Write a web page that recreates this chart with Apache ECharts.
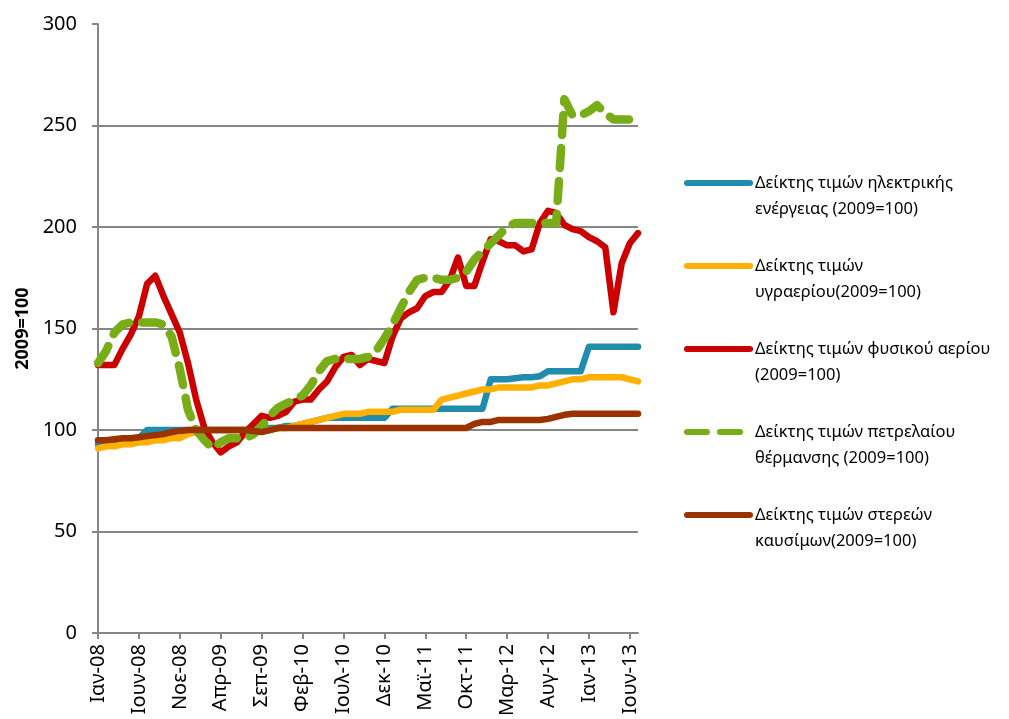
<!DOCTYPE html>
<html>
<head>
<meta charset="utf-8">
<script src="https://cdn.jsdelivr.net/npm/echarts@6/dist/echarts.min.js"></script>
<style>
html, body { margin: 0; padding: 0; background: #fff; }
#chart { width: 1009px; height: 719px; }
</style>
</head>
<body>
<div id="chart"></div>
<script>
// months Jan-08 .. Jul-13
var monthNames = ['Ιαν', 'Φεβ', 'Μαρ', 'Απρ', 'Μαϊ', 'Ιουν', 'Ιουλ', 'Αυγ', 'Σεπ', 'Οκτ', 'Νοε', 'Δεκ'];
var years = ['08', '09', '10', '11', '12', '13'];
var lastYearMonths = 7;

var yTicks = [0, 50, 100, 150, 200, 250, 300];

// values, one row per year
var electricity = [
    93, 93, 93, 94, 94, 96, 100, 100, 100, 100, 100, 100,
    100, 100, 100, 100, 100, 100, 100, 100, 100, 101, 101, 102,
    102, 103, 104, 105, 106, 106, 106, 106, 106, 106, 106, 106,
    110.5, 110.5, 110.5, 110.5, 110.5, 110.5, 110.5, 110.5, 110.5, 110.5, 110.5, 110.5,
    125, 125, 125, 125.5, 126, 126, 126.5, 129, 129, 129, 129, 129,
    141, 141, 141, 141, 141, 141, 141
];
var lpg = [
    91, 92, 92, 93, 93, 94, 94, 95, 95, 96, 96, 98,
    99, 100, 100, 100, 100, 100, 100, 100, 100, 100, 101, 101,
    102, 103, 104, 105, 106, 107, 108, 108, 108, 109, 109, 109,
    109, 110, 110, 110, 110, 110, 115, 116, 117, 118, 119, 120,
    120, 121, 121, 121, 121, 121, 122, 122, 123, 124, 125, 125,
    126, 126, 126, 126, 126, 125, 124
];
var naturalGas = [
    132, 132, 132, 140, 147, 156, 172, 176, 166, 157, 148, 133,
    115, 101, 94, 89, 92, 94, 99, 103, 107, 106, 107, 109,
    114, 115, 115, 120, 124, 131, 136, 137, 132, 135, 134, 133,
    146, 155, 158, 160, 166, 168, 168, 174, 185, 171, 171, 183,
    194, 193, 191, 191, 188, 189, 202, 208, 207, 201, 199, 198,
    195, 193, 190, 158, 182, 192, 197
];
var heatingOil = [
    133, 139, 148, 152, 153, 153, 153, 153, 152, 146, 130, 110,
    100, 95, 91, 94, 96, 96, 96, 98, 102, 107, 111, 113,
    115, 117, 122, 129, 134, 135, 135, 135, 135, 136, 139, 145,
    152, 160, 168, 174, 175, 175, 174, 174, 175, 178, 184, 188,
    192, 196, 200, 202, 202, 202, 202, 202, 202, 263, 255, 255,
    257, 260, 256, 253, 253, 253, 252
];
var solidFuels = [
    95, 95, 95.5, 96, 96, 96.5, 97, 97.5, 98, 99, 99.5, 100,
    100, 100, 100, 100, 100, 100, 100, 99.5, 99, 100, 101, 101,
    101, 101, 101, 101, 101, 101, 101, 101, 101, 101, 101, 101,
    101, 101, 101, 101, 101, 101, 101, 101, 101, 101, 103, 104,
    104, 105, 105, 105, 105, 105, 105, 105.5, 106.5, 107.5, 108, 108,
    108, 108, 108, 108, 108, 108, 108
];

var seriesNames = [
    'Δείκτης τιμών ηλεκτρικής\nενέργειας (2009=100)',
    'Δείκτης τιμών\nυγραερίου(2009=100)',
    'Δείκτης τιμών φυσικού αερίου\n(2009=100)',
    'Δείκτης τιμών πετρελαίου\nθέρμανσης (2009=100)',
    'Δείκτης τιμών στερεών\nκαυσίμων(2009=100)'
];

var categories = [];
years.forEach(function (y, yi) {
    var n = yi == years.length - 1 ? lastYearMonths : 12;
    for (var m = 0; m < n; m++) {
        categories.push(monthNames[m] + '-' + y);
    }
});

var gridColor = '#868686';
var font = 'Noto Sans';

function lineSeries(name, data, color, width, dashed) {
    return {
        name: name,
        type: 'line',
        data: data,
        symbol: 'none',
        smooth: false,
        lineStyle: {
            color: color,
            width: width,
            type: dashed ? [20, 13] : 'solid',
            cap: 'round',
            join: 'round'
        },
        itemStyle: { color: color }
    };
}

var myChart = echarts.init(document.getElementById('chart'));
var option = {
    backgroundColor: '#fff',
    animation: false,
    grid: {
        left: 98,
        right: 371,
        top: 24,
        bottom: 85
    },
    legend: {
        orient: 'vertical',
        left: 679,
        top: 139,
        itemWidth: 63,
        itemHeight: 14,
        itemGap: 5,
        data: seriesNames,
        itemStyle: { opacity: 0 },
        lineStyle: { width: 6, cap: 'round' },
        // empty first line so the icon sits on the first text line
        formatter: function (name) {
            return ' \n' + name;
        },
        textStyle: {
            fontFamily: font,
            fontSize: 16.5,
            lineHeight: 26,
            color: '#000'
        }
    },
    xAxis: {
        type: 'category',
        boundaryGap: false,
        data: categories,
        axisLine: { lineStyle: { color: gridColor, width: 2 } },
        axisTick: {
            interval: 4,
            length: 6,
            lineStyle: { color: gridColor, width: 2 }
        },
        axisLabel: {
            interval: 4,
            rotate: 90,
            margin: 11,
            color: '#000',
            fontFamily: font,
            fontSize: 20
        },
        splitLine: { show: false }
    },
    yAxis: {
        type: 'value',
        min: yTicks[0],
        max: yTicks[yTicks.length - 1],
        interval: yTicks[1] - yTicks[0],
        name: '2009=100',
        nameLocation: 'middle',
        nameRotate: 90,
        nameGap: 65,
        nameTextStyle: {
            fontFamily: font,
            fontSize: 18,
            fontWeight: 'bold',
            color: '#000'
        },
        axisLine: { show: true, lineStyle: { color: gridColor, width: 2 } },
        axisTick: { show: true, length: 6, lineStyle: { color: gridColor, width: 2 } },
        axisLabel: {
            margin: 21,
            color: '#000',
            fontFamily: font,
            fontSize: 20
        },
        splitLine: {
            showMaxLine: false,
            lineStyle: { color: gridColor, width: 2 }
        }
    },
    series: [
        lineSeries(seriesNames[0], electricity, '#1f8dab', 6.5, false),
        lineSeries(seriesNames[1], lpg, '#ffb000', 6.5, false),
        lineSeries(seriesNames[2], naturalGas, '#cc0000', 6.5, false),
        lineSeries(seriesNames[3], heatingOil, '#78ad18', 8.5, true),
        lineSeries(seriesNames[4], solidFuels, '#9a3300', 6.5, false)
    ]
};
myChart.setOption(option);
</script>
</body>
</html>
